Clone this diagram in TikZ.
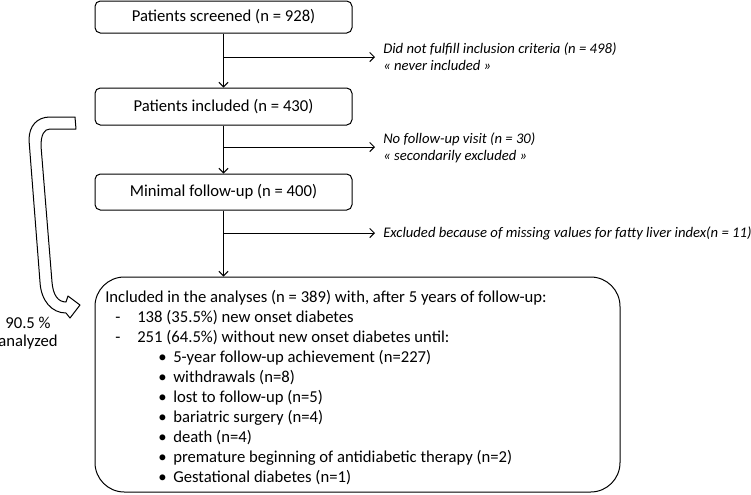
\documentclass[tikz,border=0pt]{standalone}
\usepackage{fontspec}
\setmainfont{Carlito}
\usetikzlibrary{arrows.meta}
\begin{document}
\begin{tikzpicture}[x=0.75pt,y=-0.75pt,
  every node/.style={font=\fontsize{12.5}{13}\selectfont},
  box/.style={draw, rounded corners=4pt, line width=0.75pt, minimum width=192.75pt, inner sep=0pt},
  arr/.style={-{Straight Barb[length=3.5pt,width=7pt]}, line width=0.7pt},
  lab/.style={anchor=west, inner sep=0pt, align=left, font=\fontsize{11}{12.75}\selectfont\itshape},
  txt/.style={anchor=base west, inner sep=0pt},
]
\useasboundingbox (0,0) rectangle (751,494);

% main boxes
\node[box, minimum height=24pt] (b1) at (223.5,17) {Patients screened (n = 928)};
\node[box, minimum height=27.75pt] (b2) at (223.5,106.5) {Patients included (n = 430)};
\node[box, minimum height=27pt] (b3) at (223.5,192) {Minimal follow-up (n = 400)};
\node[draw, rounded corners=22pt, line width=0.75pt, minimum width=393.75pt, minimum height=161.25pt, inner sep=0pt] (res) at (357.5,384.5) {};

% vertical arrows
\draw[arr] (b1.south) -- (b2.north);
\draw[arr] (b2.south) -- (b3.north);
\draw[arr] (b3.south) -- (b3.south |- res.north);

% exclusion labels
\node[lab] (l1) at (383,56.5) {Did not fulfill inclusion criteria (n = 498)\\« never included »};
\node[lab] (l2) at (383,148) {No follow-up visit (n = 30)\\« secondarily excluded »};
\node[lab] (l3) at (383,233) {Excluded because of missing values for fatty liver index(n = 11)};

\coordinate (c1) at (223.5,57);
\coordinate (c2) at (223.5,147);
\coordinate (c3) at (223.5,233);
\coordinate (e1) at (375,57);
\coordinate (e2) at (375,147);
\coordinate (e3) at (375,233);
\draw[arr] (c1) -- (e1);
\draw[arr] (c2) -- (e2);
\draw[arr] (c3) -- (e3);

% result text
\node[txt] (t1) at (105,302) {Included in the analyses (n = 389) with, after 5 years of follow-up:};
\node[txt] (d1) at (115,322) {-};
\node[txt] (t2) at (137,322) {138 (35.5\%) new onset diabetes};
\node[txt] (d2) at (115,342) {-};
\node[txt] (t3) at (137,342) {251 (64.5\%) without new onset diabetes until:};
\foreach \y/\t [count=\i] in {362/5-year follow-up achievement (n=227),
  382/withdrawals (n=8),
  402/lost to follow-up (n=5),
  422/bariatric surgery (n=4),
  442/death (n=4),
  462/premature beginning of antidiabetic therapy (n=2),
  482/Gestational diabetes (n=1)}{
  \node[txt] (bu\i) at (158,\y) {•};
  \node[txt] (it\i) at (173,\y) {\t};
}

% side arrow
\draw[line width=0.75pt, line join=round] (75,117) -- (50,117) .. controls (37,117) and (29,126) .. (29,140)
  -- (40,282) .. controls (41,301) and (52,313) .. (66,313) -- (70,318) -- (80,305) -- (68,296) -- (66,302)
  .. controls (58,302) and (53,295) .. (52,282) -- (41,146) .. controls (41,135) and (44,129) .. (50,129)
  -- (76,129) -- cycle;
\node (p1) at (28,323) {90.5 \%};
\node (p2) at (28,342) {analyzed};
\end{tikzpicture}
\end{document}
